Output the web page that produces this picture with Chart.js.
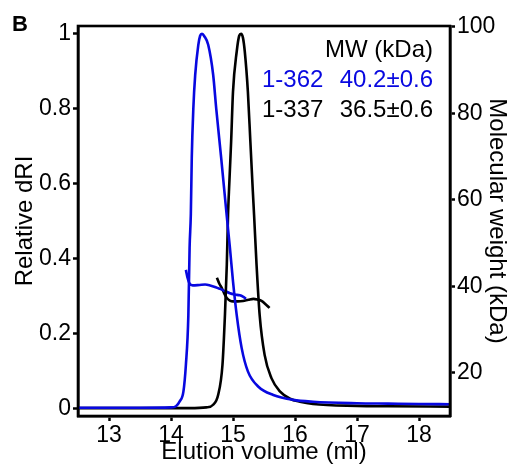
<!DOCTYPE html>
<html>
<head>
<meta charset="utf-8">
<script src="https://cdn.jsdelivr.net/npm/chart.js@4.4.1/dist/chart.umd.min.js"></script>
<style>
  html, body { margin: 0; padding: 0; background: #fff; }
  #wrap { width: 511px; height: 468px; position: relative; }
</style>
</head>
<body>
<div id="wrap"><canvas id="chart"></canvas></div>
<script>
// SEC-MALS trace, panel B

// elution volume (ml) / relative dRI, construct 1-362 (blue)
const blueRiX = [12.5, 13.0, 13.5, 14.0, 14.08, 14.14, 14.2, 14.24, 14.28, 14.30, 14.32, 14.335, 14.36, 14.39, 14.44, 14.47, 14.50, 14.54, 14.60, 14.68, 14.73, 14.81, 14.90, 14.95, 15.0, 15.06, 15.14, 15.24, 15.41, 15.65, 15.97, 16.29, 17.0, 17.5, 18.0, 18.5];
const blueRiY = [0.003, 0.003, 0.003, 0.004, 0.007, 0.02, 0.046, 0.117, 0.25, 0.43, 0.52, 0.67, 0.80, 0.89, 0.97, 0.995, 1.0, 0.993, 0.971, 0.891, 0.80, 0.668, 0.513, 0.43, 0.34, 0.25, 0.162, 0.10, 0.059, 0.037, 0.024, 0.019, 0.015, 0.014, 0.013, 0.0125];

// construct 1-337 (black)
const blackRiX = [12.5, 13.5, 14.3, 14.57, 14.68, 14.76, 14.83, 14.87, 14.90, 14.92, 14.94, 14.97, 15.00, 15.06, 15.10, 15.13, 15.16, 15.19, 15.24, 15.28, 15.32, 15.34, 15.38, 15.43, 15.51, 15.62, 15.76, 15.92, 16.08, 16.29, 17.0, 17.5, 18.5];
const blackRiY = [0.002, 0.002, 0.002, 0.004, 0.011, 0.037, 0.117, 0.25, 0.384, 0.517, 0.6, 0.713, 0.846, 0.953, 0.995, 1.0, 0.99, 0.953, 0.846, 0.713, 0.58, 0.517, 0.384, 0.25, 0.144, 0.082, 0.046, 0.027, 0.019, 0.013, 0.008, 0.007, 0.006];

// molecular weight (kDa) across the peaks
const blueMwX = [14.24, 14.27, 14.30, 14.35, 14.46, 14.55, 14.63, 14.72, 14.79, 14.87, 14.95, 15.03, 15.11, 15.16, 15.21];
const blueMwY = [43.8, 41.8, 40.6, 40.2, 40.3, 40.4, 40.2, 39.8, 39.4, 38.9, 38.4, 38.1, 37.9, 37.6, 37.1];
const blackMwX = [14.74, 14.78, 14.82, 14.86, 14.90, 14.95, 15.0, 15.08, 15.16, 15.25, 15.33, 15.40, 15.46, 15.53, 15.59];
const blackMwY = [42.0, 40.6, 39.6, 38.3, 37.3, 36.7, 36.5, 36.5, 36.6, 36.9, 37.1, 36.9, 36.6, 35.8, 35.0];

// tick labels
const xTicks = [13, 14, 15, 16, 17, 18];
const riTicks = [0, 0.2, 0.4, 0.6, 0.8, 1];
const mwTicks = [20, 40, 60, 80, 100];

// table in the corner
const constructs = ['1-362', '1-337'];
const mwResults = ['40.2\u00b10.6', '36.5\u00b10.6'];
const colors = { blue: '#0808e0', black: '#000000' };

const FONT = '"Liberation Sans", Arial, Helvetica, sans-serif';

function pts(xs, ys) {
    return xs.map((x, i) => ({ x: x, y: ys[i] }));
}

function trace(label, xs, ys, color, axis) {
    return {
        label: label,
        data: pts(xs, ys),
        yAxisID: axis,
        borderColor: color,
        backgroundColor: color,
        borderWidth: 2.6,
        pointRadius: 0,
        fill: false,
        cubicInterpolationMode: 'monotone'
    };
}

const fixTicks = (vals) => (scale) => { scale.ticks = vals.map(v => ({ value: v })); };
const plainLabel = (v) => String(+v.toFixed(1));

// frame + panel letter + MW table
const decor = {
    id: 'decor',
    afterDraw(chart) {
        const { ctx, chartArea: a } = chart;
        ctx.save();
        ctx.strokeStyle = '#000';
        ctx.lineWidth = 2.6;
        ctx.strokeRect(a.left, a.top, a.right - a.left, a.bottom - a.top);

        ctx.fillStyle = '#000';
        ctx.font = 'bold 22px ' + FONT;
        ctx.textAlign = 'left';
        ctx.textBaseline = 'alphabetic';
        ctx.fillText('B', 12, 31);

        ctx.font = '24px ' + FONT;
        ctx.textAlign = 'right';
        ctx.fillText('MW (kDa)', a.right - 17, a.top + 31);
        constructs.forEach((name, i) => {
            const y = a.top + 61 + i * 29.5;
            ctx.fillStyle = i === 0 ? colors.blue : colors.black;
            ctx.textAlign = 'left';
            ctx.fillText(name, a.right - 188, y);
            ctx.textAlign = 'right';
            ctx.fillText(mwResults[i], a.right - 17, y);
        });
        ctx.restore();
    }
};

const tickFont = { family: FONT, size: 23 };
const titleFont = { family: FONT, size: 24 };
const gridOpts = { drawOnChartArea: false, drawTicks: true, tickLength: 5, tickWidth: 2.5, tickColor: '#000' };
const borderOpts = { display: true, color: '#000', width: 2.6 };

new Chart(document.getElementById('chart'), {
    type: 'line',
    data: {
        datasets: [
            trace('1-362 dRI', blueRiX, blueRiY, colors.blue, 'y'),
            trace('1-337 dRI', blackRiX, blackRiY, colors.black, 'y'),
            trace('1-362 MW', blueMwX, blueMwY, colors.blue, 'y2'),
            trace('1-337 MW', blackMwX, blackMwY, colors.black, 'y2')
        ]
    },
    options: {
        responsive: true,
        maintainAspectRatio: false,
        animation: false,
        layout: { padding: { top: 26, left: 0, right: 0, bottom: 0 } },
        plugins: { legend: { display: false }, tooltip: { enabled: false } },
        scales: {
            x: {
                type: 'linear',
                min: 12.5,
                max: 18.5,
                afterBuildTicks: fixTicks(xTicks),
                afterFit: (s) => { s.height = 52; },
                grid: gridOpts,
                border: borderOpts,
                ticks: { color: '#000', font: tickFont, padding: 1, maxRotation: 0, callback: plainLabel },
                title: { display: true, text: 'Elution volume (ml)', color: '#000', font: titleFont, padding: { top: 0, bottom: 1 } }
            },
            y: {
                type: 'linear',
                position: 'left',
                min: -0.019,
                max: 1.021,
                afterBuildTicks: fixTicks(riTicks),
                afterFit: (s) => { s.width = 78; },
                grid: gridOpts,
                border: borderOpts,
                ticks: { color: '#000', font: tickFont, padding: 2, callback: plainLabel },
                title: { display: true, text: 'Relative dRI', color: '#000', font: titleFont, padding: { top: 11, bottom: 0 } }
            },
            y2: {
                type: 'linear',
                position: 'right',
                min: 10,
                max: 100.2,
                afterBuildTicks: fixTicks(mwTicks),
                afterFit: (s) => { s.width = 61; },
                grid: gridOpts,
                border: borderOpts,
                ticks: { color: '#000', font: tickFont, padding: 2, callback: plainLabel },
                title: { display: true, text: 'Molecular weight (kDa)', color: '#000', font: titleFont, padding: { top: 0, bottom: 0 } }
            }
        }
    },
    plugins: [decor]
});
</script>
</body>
</html>
